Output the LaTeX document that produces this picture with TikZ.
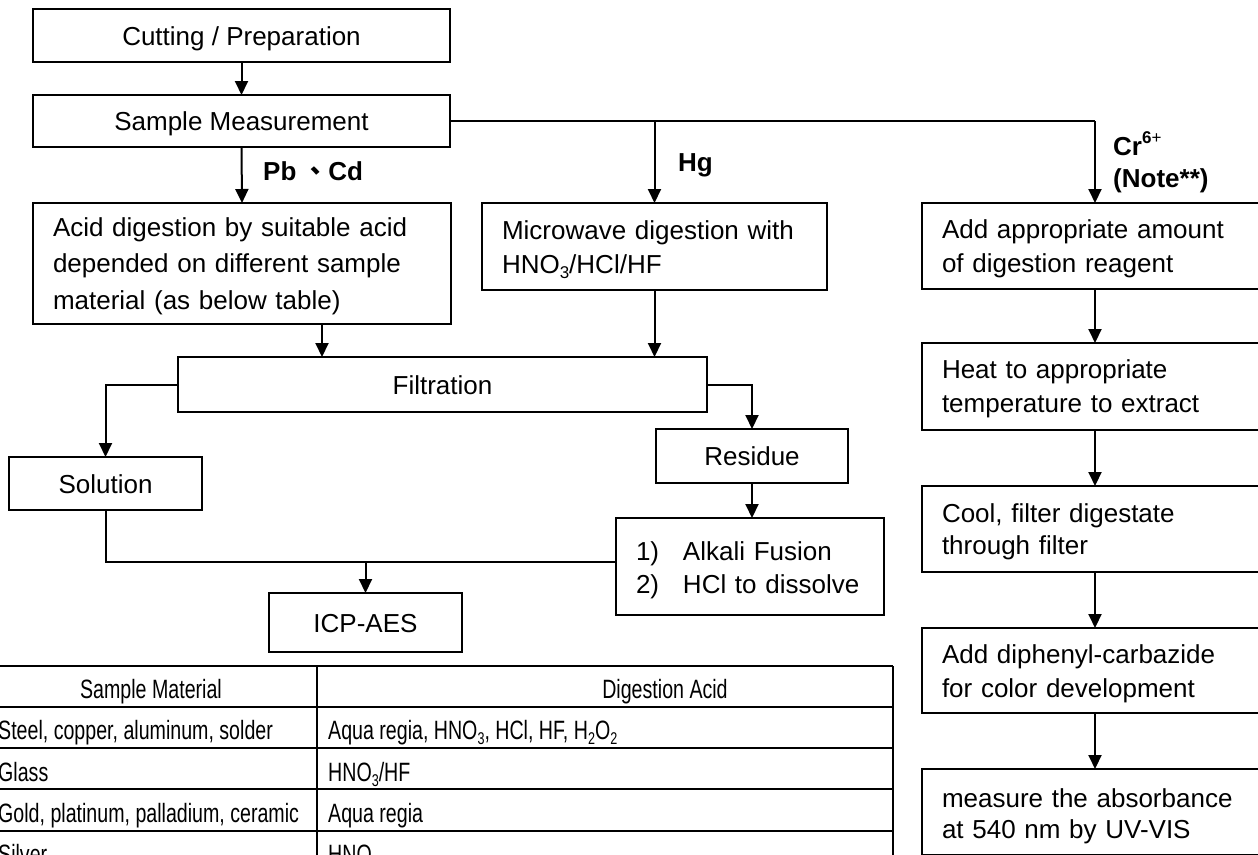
\documentclass[tikz,border=0pt]{standalone}
\usepackage{fontspec}
\setmainfont{Liberation Sans}
\newfontfamily\cjk{Noto Sans CJK TC}
\newfontfamily\narrow[FakeStretch=0.74]{Liberation Sans}
\usetikzlibrary{arrows.meta,calc}
\newcommand\subs[1]{\raisebox{-0.2em}{\fontsize{17}{17}\selectfont #1}}
\newcommand\sups[1]{\raisebox{0.45em}{\fontsize{17}{17}\selectfont #1}}
\begin{document}
\begin{tikzpicture}[x=1pt,y=-1pt,
  font=\fontsize{26}{34}\selectfont,
  box/.style={draw,line width=2pt,rectangle,anchor=north west,inner sep=0pt,outer sep=0pt,
    text height=19pt,text depth=0pt},
  lbox/.style={box,inner xsep=20pt,align=left,text height=19pt},
  arr/.style={line width=2pt,-{Triangle[length=14pt,width=13pt]}},
  ln/.style={line width=2pt},
  lab/.style={font=\fontsize{26}{32}\selectfont\bfseries,inner sep=0pt},
  tab/.style={font=\fontsize{26.5}{34}\selectfont\narrow,inner sep=0pt},
]
\useasboundingbox (0,0) rectangle (1258,854);
\clip (0,0) rectangle (1258,854);

% left column
\node[box,minimum width=417pt,minimum height=53pt] (cut) at (33,9) {Cutting / Preparation};
\node[box,minimum width=417pt,minimum height=52pt] (sm) at (33,95) {Sample Measurement};
\node[lbox,minimum width=418pt,text width=378pt,minimum height=121pt,text depth=74pt,
  font=\fontsize{26}{36.5}\selectfont] (acid) at (33,203)
  {Acid digestion by suitable acid\\depended on different sample\\material (as below table)};
\node[lbox,minimum width=345pt,text width=305pt,minimum height=87pt,text depth=34pt] (mw) at (482,203)
  {Microwave digestion with\\HNO\subs{3}/HCl/HF};
\node[box,minimum width=529pt,minimum height=55pt] (filt) at (178,357) {Filtration};
\node[box,minimum width=193pt,minimum height=53pt] (sol) at (9,457) {Solution};
\node[box,minimum width=192pt,minimum height=54pt] (res) at (656,429) {Residue};
\node[lbox,minimum width=268pt,text width=228pt,minimum height=97pt,text depth=32pt,
  font=\fontsize{26}{33}\selectfont] (alk) at (616,518)
  {\makebox[47pt][l]{1)}Alkali Fusion\\\makebox[47pt][l]{2)}HCl to dissolve};
\node[box,minimum width=193pt,minimum height=59pt] (icp) at (269,593) {ICP-AES};

% right column
\node[lbox,minimum width=346pt,text width=306pt,minimum height=86pt,text depth=35pt] (cr1) at (922,203)
  {Add appropriate amount\\of digestion reagent};
\node[lbox,minimum width=346pt,text width=306pt,minimum height=87pt,text depth=36pt] (cr2) at (922,343)
  {Heat to appropriate\\temperature to extract};
\node[lbox,minimum width=346pt,text width=306pt,minimum height=86pt,text depth=33pt,
  font=\fontsize{26}{32}\selectfont] (cr3) at (922,486)
  {Cool, filter digestate\\through filter};
\node[lbox,minimum width=346pt,text width=306pt,minimum height=85pt,text depth=34pt] (cr4) at (922,628)
  {Add diphenyl-carbazide\\for color development};
\node[lbox,minimum width=346pt,text width=306pt,minimum height=86pt,text depth=29pt,
  font=\fontsize{26}{31}\selectfont] (cr5) at (922,769)
  {measure the absorbance\\at 540 nm by UV-VIS};

% labels
\node[lab,anchor=base west] (pbcd) at (263,180) {Pb\hspace{6pt}{\cjk 、}Cd};
\node[lab,anchor=base west] (hg) at (678,171) {Hg};
\node[lab,anchor=base west] (cr6) at (1113,155) {Cr\sups{6{\mdseries+}}};
\node[lab,anchor=base west] (note) at (1113,187) {(Note**)};

% connectors
\coordinate (join) at ([yshift=4.5pt]alk.west);
\draw[arr] (cut.south) -- (sm.north);
\draw[arr] (sm.south) -- (acid.north);
\draw[ln] (sm.east) -- (cr1.north |- sm.east);
\draw[arr] (mw.north |- sm.east) -- (mw.north);
\draw[arr] (cr1.north |- sm.east) -- (cr1.north);
\draw[arr] ([xshift=80pt]acid.south) -- ([xshift=80pt]acid.south |- filt.north);
\draw[arr] (mw.south) -- (mw.south |- filt.north);
\draw[arr] (filt.west) -| (sol.north);
\draw[arr] (filt.east) -| (res.north);
\draw[arr] (res.south) -- (res.south |- alk.north);
\draw[ln] (sol.south) |- (join);
\draw[arr] (icp.north |- join) -- (icp.north);
\draw[arr] (cr1.south) -- (cr2.north);
\draw[arr] (cr2.south) -- (cr3.north);
\draw[arr] (cr3.south) -- (cr4.north);
\draw[arr] (cr4.south) -- (cr5.north);

% table
\foreach \yy in {666,707,748,789,831} \draw[ln] (-14,\yy) -- (893,\yy);
\draw[ln] (-14,666) -- (-14,872);
\draw[ln] (317,666) -- (317,872);
\draw[ln] (893,666) -- (893,872);
\node[tab,anchor=base] (h1) at (151,698) {Sample Material};
\node[tab,anchor=base] (h2) at (665,698) {Digestion Acid};
\node[tab,anchor=base west] (a1) at (-2,739) {Steel, copper, aluminum, solder};
\node[tab,anchor=base west] (b1) at (328,739) {Aqua regia, HNO\subs{3}, HCl, HF, H\subs{2}O\subs{2}};
\node[tab,anchor=base west] (a2) at (-2,781) {Glass};
\node[tab,anchor=base west] (b2) at (328,781) {HNO\subs{3}/HF};
\node[tab,anchor=base west] (a3) at (-2,822) {Gold, platinum, palladium, ceramic};
\node[tab,anchor=base west] (b3) at (328,822) {Aqua regia};
\node[tab,anchor=base west] (a4) at (-2,863) {Silver};
\node[tab,anchor=base west] (b4) at (328,863) {HNO\subs{3}};
\end{tikzpicture}
\end{document}
